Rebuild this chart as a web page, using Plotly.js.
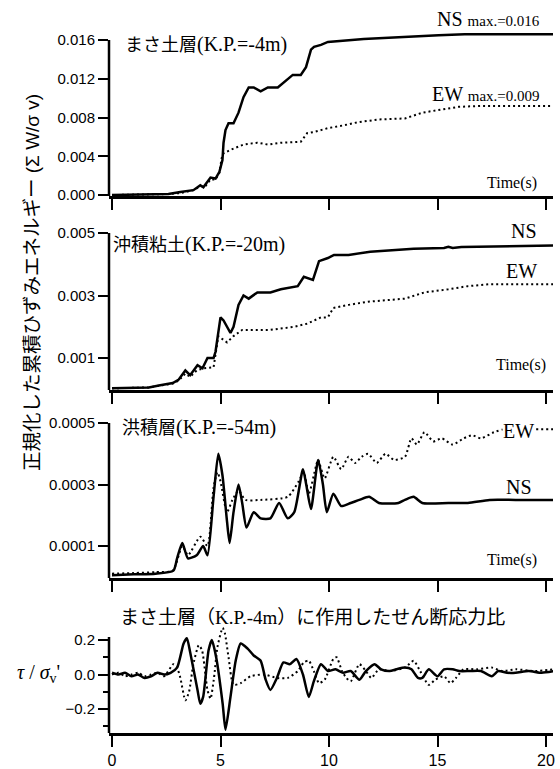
<!DOCTYPE html>
<html><head><meta charset="utf-8">
<script src="https://cdn.plot.ly/plotly-3.0.1.min.js"></script>
<style>html,body{margin:0;padding:0;background:#fff}#chart{width:560px;height:769px}</style>
</head><body><div id="chart"></div>
<script>
// ---------- data ----------
const timeTicks = [0, 5, 10, 15, 20];

// Panel 1: まさ土層 (K.P.=-4m)
const p1_ns_t = [0, 1.0, 2.0, 2.6, 3.15, 3.5, 3.75, 4.07, 4.21, 4.54, 4.77, 4.95, 5.09, 5.14, 5.23, 5.37, 5.6, 5.83, 6.06, 6.3, 6.53, 6.85, 7.18, 7.64, 7.92, 8.33, 8.7, 8.94, 9.17, 9.31, 9.63, 9.95, 11.6, 13.2, 15.05, 16.25, 20.4];
const p1_ns   = [0, 0.00002, 0.00005, 0.0001, 0.0003, 0.0004, 0.0005, 0.001, 0.0008, 0.0018, 0.0017, 0.0024, 0.0036, 0.0054, 0.0067, 0.0074, 0.0074, 0.0085, 0.0101, 0.0111, 0.0111, 0.0107, 0.0111, 0.0111, 0.0116, 0.0124, 0.0124, 0.0132, 0.0150, 0.0153, 0.0155, 0.0158, 0.0161, 0.0163, 0.0165, 0.0166, 0.0166];
const p1_ew_t = [0, 1.0, 2.0, 2.6, 3.15, 3.5, 3.75, 4.07, 4.3, 4.54, 4.77, 4.95, 5.05, 5.14, 5.5, 6.06, 6.7, 7.2, 7.8, 8.7, 9.0, 9.3, 9.95, 10.7, 11.3, 12.3, 13.5, 14.3, 15.05, 15.97, 17.0, 20.4];
const p1_ew   = [0, 0.00002, 0.00005, 0.0001, 0.0002, 0.0004, 0.0005, 0.0009, 0.0009, 0.0016, 0.0016, 0.0023, 0.0038, 0.0043, 0.0047, 0.0052, 0.0054, 0.0052, 0.0054, 0.0055, 0.0064, 0.0065, 0.0069, 0.0072, 0.0075, 0.0078, 0.0079, 0.0085, 0.0088, 0.0091, 0.0092, 0.0092];
const p1_ticks = [0, 0.004, 0.008, 0.012, 0.016];

// Panel 2: 沖積粘土 (K.P.=-20m)
const p2_ns_t = [0, 1.0, 1.7, 2.22, 2.8, 3.06, 3.38, 3.6, 3.94, 4.17, 4.4, 4.68, 4.77, 5.0, 5.14, 5.46, 5.6, 5.83, 6.06, 6.3, 6.7, 7.3, 7.78, 8.56, 8.84, 9.26, 9.54, 9.95, 10.23, 10.9, 11.9, 13.9, 15.3, 15.5, 15.7, 16.1, 20.4];
const p2_ns   = [0.00003, 0.00004, 0.00006, 0.00013, 0.0002, 0.0003, 0.0006, 0.00045, 0.00077, 0.00067, 0.001, 0.001, 0.0012, 0.0023, 0.0022, 0.0018, 0.0020, 0.0027, 0.0030, 0.0029, 0.0031, 0.0031, 0.0032, 0.0033, 0.0036, 0.0035, 0.0041, 0.0042, 0.0043, 0.0043, 0.0044, 0.0045, 0.00452, 0.00456, 0.00452, 0.00455, 0.0046];
const p2_ew_t = [0, 1.0, 1.7, 2.22, 2.8, 3.06, 3.38, 3.6, 3.9, 4.2, 4.68, 4.9, 5.3, 5.6, 6.0, 7.3, 8.4, 9.0, 9.63, 9.95, 10.2, 10.9, 11.8, 13.5, 14.4, 15.5, 16.4, 17.4, 20.4];
const p2_ew   = [0.00003, 0.00004, 0.00006, 0.00012, 0.00018, 0.00027, 0.0005, 0.0004, 0.0006, 0.00067, 0.0007, 0.0017, 0.0015, 0.0017, 0.0019, 0.0019, 0.0020, 0.0021, 0.0023, 0.0023, 0.0026, 0.0027, 0.0028, 0.0029, 0.0031, 0.0032, 0.0033, 0.00336, 0.00336];
const p2_ticks = [0.001, 0.003, 0.005];

// Panel 3: 洪積層 (K.P.=-54m)
const p3_ns_t = [0, 1.0, 2.0, 2.83, 3.0, 3.24, 3.5, 3.9, 4.2, 4.4, 4.68, 4.9, 5.09, 5.3, 5.42, 5.6, 5.83, 6.0, 6.2, 6.53, 6.85, 7.3, 7.7, 8.1, 8.4, 8.8, 8.95, 9.17, 9.5, 9.72, 9.9, 10.2, 10.56, 11.0, 11.4, 11.85, 12.3, 13.2, 13.5, 13.9, 14.3, 15.5, 16.4, 17.4, 18.6, 20.4];
const p3_ns   = [0.000005, 0.000008, 0.00001, 0.00002, 0.00006, 0.00011, 0.00006, 0.00007, 0.0001, 0.00007, 0.00026, 0.0004, 0.00033, 0.00018, 0.00011, 0.00021, 0.0003, 0.00024, 0.00016, 0.00021, 0.00019, 0.00019, 0.00024, 0.00019, 0.00021, 0.00035, 0.0003, 0.00022, 0.00038, 0.0003, 0.00021, 0.00027, 0.00023, 0.00024, 0.00025, 0.00026, 0.00024, 0.00024, 0.00025, 0.00026, 0.00024, 0.00024, 0.00024, 0.00025, 0.00025, 0.00025];
const p3_ew_t = [0, 1.0, 2.0, 2.8, 3.24, 3.5, 4.07, 4.4, 4.68, 4.86, 5.0, 5.3, 5.55, 5.83, 6.15, 6.85, 8.1, 8.6, 8.84, 9.07, 9.4, 9.5, 9.8, 10.2, 10.56, 10.9, 11.2, 11.5, 11.8, 12.2, 12.6, 13.0, 13.5, 13.8, 14.05, 14.4, 14.8, 15.2, 15.7, 16.2, 16.6, 17.0, 17.6, 18.1, 19.5, 20.4];
const p3_ew   = [0.00001, 0.000012, 0.000015, 0.00002, 0.0001, 0.00007, 0.00013, 0.0001, 0.00029, 0.00034, 0.00031, 0.00021, 0.00025, 0.00028, 0.00025, 0.00025, 0.00026, 0.00031, 0.00034, 0.00027, 0.00036, 0.00038, 0.00032, 0.00039, 0.00035, 0.00039, 0.00037, 0.00039, 0.0004, 0.00037, 0.0004, 0.00038, 0.00039, 0.00045, 0.00043, 0.00047, 0.00044, 0.00045, 0.00043, 0.00045, 0.00046, 0.00045, 0.00047, 0.00048, 0.00048, 0.00048];
const p3_ticks = [0.0001, 0.0003, 0.0005];

// Panel 4: せん断応力比 τ/σv'
const p4_a_t = [0, 0.3, 0.6, 0.9, 1.2, 1.5, 1.8, 2.1, 2.4, 2.7, 3.0, 3.3, 3.45, 3.6, 3.94, 4.07, 4.2, 4.45, 4.6, 4.8, 5.1, 5.23, 5.46, 5.7, 5.93, 6.25, 6.53, 6.85, 7.08, 7.3, 7.6, 7.9, 8.2, 8.5, 8.8, 9.07, 9.3, 9.63, 9.95, 10.3, 10.65, 11.0, 11.4, 11.7, 12.1, 12.4, 12.8, 13.1, 13.5, 13.8, 14.1, 14.3, 14.6, 15.0, 15.3, 15.7, 16.0, 16.5, 17.0, 17.5, 17.8, 18.2, 18.6, 19.2, 19.8, 20.4];
const p4_a   = [0.01, 0.0, 0.01, -0.01, 0.0, -0.02, -0.01, 0.01, 0.0, 0.01, 0.04, 0.18, 0.21, 0.13, -0.09, -0.17, -0.13, 0.14, 0.2, 0.1, -0.17, -0.32, -0.13, 0.08, 0.18, 0.15, 0.11, 0.08, -0.03, -0.09, -0.02, 0.07, 0.06, 0.09, 0.0, -0.13, -0.04, 0.06, 0.02, 0.03, 0.01, 0.02, -0.03, 0.02, 0.06, 0.03, 0.02, 0.03, 0.04, 0.03, -0.02, -0.02, 0.03, -0.01, 0.03, 0.03, 0.02, 0.02, 0.02, -0.01, 0.02, 0.01, 0.01, 0.02, 0.01, 0.02];
const p4_b_t = [0, 0.3, 0.6, 0.9, 1.2, 1.5, 1.8, 2.1, 2.4, 2.83, 3.0, 3.15, 3.38, 3.55, 3.75, 4.0, 4.15, 4.4, 4.54, 4.7, 4.86, 5.1, 5.2, 5.37, 5.6, 5.93, 6.39, 7.0, 7.6, 8.1, 8.56, 8.84, 9.07, 9.3, 9.54, 9.8, 10.2, 10.35, 10.6, 10.8, 11.0, 11.4, 11.7, 11.95, 12.3, 12.8, 13.5, 13.9, 14.2, 14.6, 14.9, 15.3, 15.6, 15.85, 16.2, 16.8, 17.5, 18.0, 18.6, 19.5, 20.4];
const p4_b   = [0.0, 0.01, -0.01, 0.0, 0.01, -0.01, 0.0, 0.01, -0.01, 0.06, 0.04, -0.02, -0.15, -0.1, 0.06, 0.17, 0.14, -0.09, -0.14, -0.02, 0.16, 0.27, 0.24, 0.1, -0.06, -0.05, -0.01, 0.0, -0.02, -0.02, 0.02, 0.07, 0.08, 0.02, -0.05, -0.03, 0.09, 0.1, 0.02, -0.02, -0.04, 0.06, 0.02, -0.02, 0.03, 0.02, 0.04, 0.08, 0.02, -0.06, -0.03, -0.01, -0.05, -0.02, 0.03, 0.03, 0.04, 0.02, 0.03, 0.02, 0.03];
const p4_ticks = [-0.2, 0.0, 0.2];
const p4_minor = [-0.3, -0.1, 0.1];

// ---------- layout helpers ----------
const W = 560, H = 769;
const px = p => p / W;
const py = p => 1 - p / H;
function rangeFrom(vA, pA, vB, pB, pTop, pBot) {
  const s = (vB - vA) / (pB - pA);
  return [vA + (pBot - pA) * s, vA + (pTop - pA) * s];
}
const XL = 109, XR = 553;
const xRange = rangeFrom(0, 112, 20, 546, XR, XL);

const SER = 'Liberation Serif';
const JP = 'Noto Sans CJK JP';
const SANS = 'Liberation Sans';

const solid = {color: '#000', width: 2.5};
const dotted = {color: '#000', width: 2, dash: '2px,3px'};

function tr(x, y, ax, line, smooth) {
  const t = {x: x, y: y, type: 'scatter', mode: 'lines', xaxis: 'x' + ax, yaxis: 'y' + ax,
             line: Object.assign({}, line), hoverinfo: 'skip', showlegend: false};
  if (smooth) { t.line.shape = 'spline'; t.line.smoothing = 0.6; }
  return t;
}
const data = [
  tr(p1_ew_t, p1_ew, '', dotted, false),
  tr(p1_ns_t, p1_ns, '', solid, false),
  tr(p2_ew_t, p2_ew, '2', dotted, false),
  tr(p2_ns_t, p2_ns, '2', solid, false),
  tr(p3_ew_t, p3_ew, '3', dotted, true),
  tr(p3_ns_t, p3_ns, '3', solid, true),
  tr(p4_b_t, p4_b, '4', dotted, true),
  tr(p4_a_t, p4_a, '4', solid, true)
];

function xAx(anchor, labels) {
  return {domain: [px(XL), px(XR)], range: xRange, anchor: anchor, showline: true, linewidth: 2.5,
          linecolor: '#000', ticks: 'outside', ticklen: 11, tickwidth: 2, tickcolor: '#000',
          tickvals: timeTicks, showticklabels: labels, showgrid: false, zeroline: false,
          tickfont: {family: SANS, size: 16, color: '#000'}, fixedrange: true};
}
function yAx(anchor, pTop, pBot, cal, ticks, fmt) {
  return {domain: [py(pBot), py(pTop)], range: rangeFrom(cal[0], cal[1], cal[2], cal[3], pTop, pBot),
          anchor: anchor, showline: false, ticks: 'outside', ticklen: 10, tickwidth: 2, tickcolor: '#000',
          tickvals: ticks, tickformat: fmt, showgrid: false, zeroline: false,
          tickfont: {family: SANS, size: 15, color: '#000'}, fixedrange: true};
}

const layout = {
  width: W, height: H, margin: {l: 0, r: 0, t: 0, b: 0},
  paper_bgcolor: '#fff', plot_bgcolor: 'rgba(0,0,0,0)', showlegend: false,
  xaxis: xAx('y', false),
  xaxis2: xAx('y2', false),
  xaxis3: xAx('y3', false),
  xaxis4: xAx('y4', true),
  yaxis: yAx('x', 30, 196, [0, 195, 0.016, 40], p1_ticks, '.3f'),
  yaxis2: yAx('x2', 228, 390, [0.001, 358, 0.005, 233], p2_ticks, '.3f'),
  yaxis3: yAx('x3', 418, 578, [0.0001, 546, 0.0005, 423], p3_ticks, '.4f'),
  yaxis4: Object.assign(yAx('x4', 622, 733, [-0.2, 709, 0.2, 640], p4_ticks, '.1f'),
          {minor: {tickvals: p4_minor, ticks: 'outside', ticklen: 5, tickwidth: 2, tickcolor: '#000', showgrid: false}}),
  shapes: [
    [196, 40], [390, 233], [578, 423], [733, 637]
  ].map(([b, t]) => ({type: 'line', xref: 'paper', yref: 'paper', x0: px(XL), x1: px(XL),
                      y0: py(b), y1: py(t), line: {color: '#000', width: 2.5}, layer: 'above'})),
  annotations: []
};

function ann(text, x, y, xanchor, font, extra) {
  return Object.assign({text: text, xref: 'paper', yref: 'paper', x: px(x), y: py(y), xanchor: xanchor,
          yanchor: 'middle', showarrow: false, font: Object.assign({color: '#000'}, font), borderpad: 0}, extra || {});
}
const jp = (s, sz) => '<span style="font-family:' + JP + ';font-size:' + sz + 'px">' + s + '</span>';
const sm = (s, sz) => '<span style="font-size:' + sz + 'px">' + s + '</span>';

layout.annotations = [
  ann(jp('まさ土層', 18) + '(K.P.=-4m)', 124, 43, 'left', {family: SER, size: 20}),
  ann(jp('沖積粘土', 18) + '(K.P.=-20m)', 112, 243, 'left', {family: SER, size: 20}),
  ann(jp('洪積層', 18) + '(K.P.=-54m)', 121, 426, 'left', {family: SER, size: 20}),
  ann(jp('まさ土層（', 19) + 'K.P.-4m' + jp('）に作用したせん断応力比', 19), 119, 615, 'left', {family: SER, size: 19}),
  ann('NS ' + sm('max.=0.016', 15), 541, 19, 'right', {family: SER, size: 20}),
  ann('EW ' + sm('max.=0.009', 15), 541, 94, 'right', {family: SER, size: 20}),
  ann('Time(s)', 538, 183, 'right', {family: SER, size: 16}),
  ann('NS', 538, 231, 'right', {family: SER, size: 20}),
  ann('EW', 538, 271, 'right', {family: SER, size: 20}),
  ann('Time(s)', 547, 365, 'right', {family: SER, size: 16}),
  ann('EW', 535, 431, 'right', {family: SER, size: 20}, {bgcolor: '#fff'}),
  ann('NS', 533, 487, 'right', {family: SER, size: 20}),
  ann('Time(s)', 538, 560, 'right', {family: SER, size: 16}),
  ann('<i>τ</i> / <i>σ</i><sub>v</sub>\'', 38, 673, 'center', {family: SER, size: 20}),
  ann(jp('正規化した累積ひずみエネルギー', 19.5) + ' (Σ W/σ v)', 30, 283, 'center', {family: SANS, size: 19}, {textangle: -90})
];

Plotly.newPlot('chart', data, layout, {displayModeBar: false, staticPlot: true});
</script></body></html>
